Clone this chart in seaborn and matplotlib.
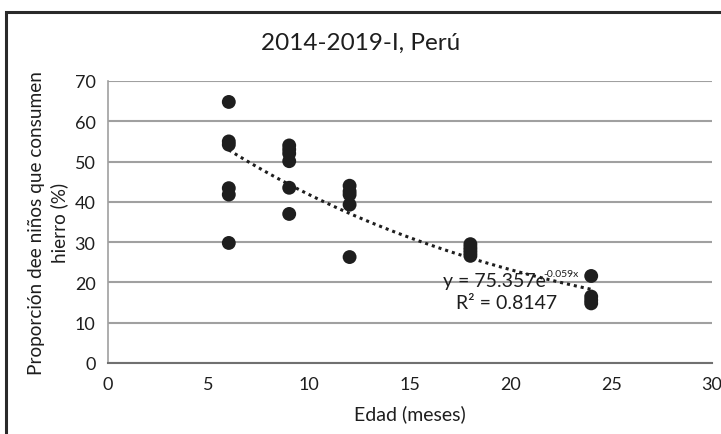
import numpy as np
import pandas as pd
import matplotlib
matplotlib.use("Agg")
import matplotlib.pyplot as plt
import seaborn as sns
from matplotlib.patches import Rectangle

# Data
edad = [6, 6, 6, 6, 6, 6,
        9, 9, 9, 9, 9, 9,
        12, 12, 12, 12, 12,
        18, 18, 18, 18, 18,
        24, 24, 24, 24]
proporcion = [64.8, 55.0, 54.2, 43.4, 41.8, 29.8,
              54.0, 53.0, 52.0, 50.1, 43.5, 37.0,
              44.0, 42.6, 41.8, 39.3, 26.3,
              29.5, 28.7, 28.0, 27.3, 26.6,
              21.6, 16.5, 15.6, 14.8]
trend_a = 75.357
trend_b = -0.059
r2 = 0.8147
x_ticks = [0, 5, 10, 15, 20, 25, 30]
y_ticks = [0, 10, 20, 30, 40, 50, 60, 70]

df = pd.DataFrame({"Edad": edad, "Prop": proporcion})

sns.set_theme(style="white")
plt.rcParams["font.family"] = ["Lato", "DejaVu Sans"]

fig = plt.figure(figsize=(7.21, 4.35), dpi=100)
ax = fig.add_axes([108/721, 1-364/435, (712-108)/721, (364-82)/435])

sns.scatterplot(data=df, x="Edad", y="Prop", ax=ax, color="#1e1e1e",
                s=100, edgecolor="none", zorder=3)

xs = np.linspace(min(edad), max(edad), 100)
ax.plot(xs, trend_a*np.exp(trend_b*xs), linestyle=(0, (1, 1.3)),
        color="#1e1e1e", lw=2.2, zorder=4)

ax.set_xlim(0, 30)
ax.set_ylim(0, 70)
ax.set_xticks(x_ticks)
ax.set_yticks(y_ticks)
ax.tick_params(axis="both", labelsize=13, length=0, pad=9, colors="#1e1e1e")
ax.yaxis.grid(True, color="#a0a0a0", lw=1.5)
ax.xaxis.grid(False)
for s in ["top", "right"]:
    ax.spines[s].set_visible(False)
ax.spines["left"].set_color("#a0a0a0")
ax.spines["left"].set_linewidth(1.2)
ax.spines["bottom"].set_color("#707070")
ax.spines["bottom"].set_linewidth(1.5)

ax.set_xlabel("Edad (meses)", fontsize=14, color="#1e1e1e", labelpad=9)
ax.set_ylabel("Proporción dee niños que consumen\nhierro (%)", fontsize=13.7,
              color="#1e1e1e", labelpad=5, linespacing=1.3,
              multialignment="center")
fig.suptitle("2014-2019-I, Perú", x=0.5, y=1-43/435, va="center",
             fontsize=17.5, color="#1e1e1e")

ax.text(16.64, 20.6, f"y = {trend_a}e", fontsize=14, color="#1e1e1e",
        ha="left", va="center", zorder=5)
ax.text(21.6, 22.1, f"{trend_b}x", fontsize=7.5, color="#1e1e1e",
        ha="left", va="center", zorder=5)
ax.text(19.8, 15.0, f"R² = {r2}", fontsize=14, color="#1e1e1e",
        ha="center", va="center", zorder=5)

fig.patches.append(Rectangle((6/721, -0.1), 1.2, 1-13/435+0.1,
                             transform=fig.transFigure, fill=False,
                             edgecolor="#2a2a2a", lw=2.2))

fig.savefig("out.png", dpi=100)
